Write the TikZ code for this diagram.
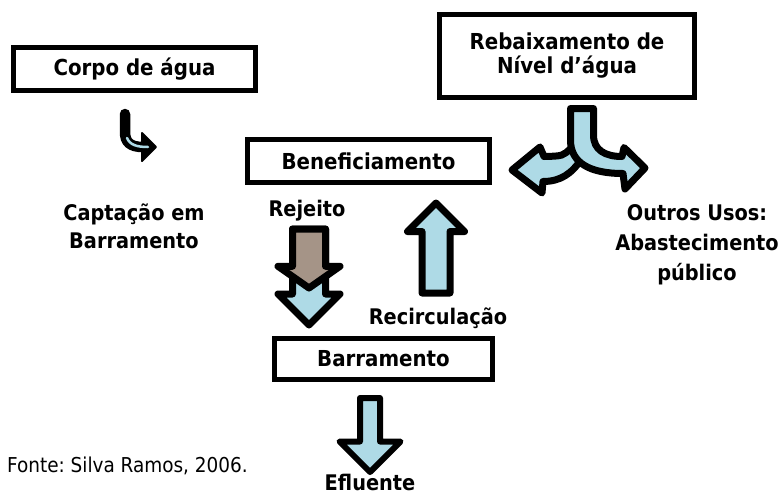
\documentclass[tikz,border=0pt]{standalone}
\usepackage{fontspec}
\setmainfont{DejaVu Sans Condensed}
\usepackage{tikz}
\usetikzlibrary{positioning,calc,shapes.arrows,arrows.meta}
\frenchspacing

\begin{document}
\begin{tikzpicture}[x=1pt,y=-1pt]
	\definecolor{aguablue}{RGB}{174,218,230}
	\definecolor{rejbrown}{RGB}{165,148,135}
	\tikzset{
		box/.style={
			draw=black,
			line width=5pt,
			inner sep=0pt,
			align=center,
			font=\fontsize{22}{24}\selectfont\bfseries
		},
		lbl/.style={
			align=center,
			inner sep=0pt,
			font=\fontsize{21.5}{28}\selectfont\bfseries
		},
		blockarr/.style={
			single arrow,
			draw=black,
			line width=7pt,
			line join=round,
			fill=aguablue,
			inner xsep=0pt,
			anchor=tail
		}
	}
	\useasboundingbox (0,0) rectangle (780,496);

	% ======= caixas =======
	\node[box, minimum width=242, minimum height=43] (corpo) at (134.5,69) {Corpo de água};
	\node[box, minimum width=255, minimum height=83] (rebaix) at (567,56) {Rebaixamento de\\Nível d’água};
	\node[box, minimum width=242, minimum height=43] (benef) at (368.5,161) {Beneficiamento};
	\node[box, minimum width=218, minimum height=41] (barr) at (383.5,359) {Barramento};

	% ======= textos =======
	\node[lbl] (captacao) at (134,226) {Captação em\\Barramento};
	\node[lbl] (rejeito) at (307,211) {Rejeito};
	\node[lbl] (recirc) at (438,318) {Recirculação};
	\node[lbl, font=\fontsize{21.5}{30}\selectfont\bfseries] (outros) at (697,245) {Outros Usos:\\Abastecimento\\público};
	\node[lbl] (efluente) at (370,482) {Efluente};
	\node[anchor=west, inner sep=0pt, font=\fontsize{20.5}{24}\selectfont] (fonte) at (7,466) {Fonte: Silva Ramos, 2006.};

	% ======= seta curta: corpo -> captacao =======
	\draw[line width=10.5pt, line cap=round] (125,114) -- (125,132) .. controls (125,142) and (130,147) .. (143,147);
	\filldraw[line width=2pt, line join=round] (142,133) -- (156,147) -- (142,161) -- cycle;
	\draw[aguablue, line width=2.5pt, line cap=round] (127,138) .. controls (130,145) and (137,147) .. (148,147);

	% ======= seta dupla do rebaixamento =======
	% ramo esquerdo (por baixo)
	\filldraw[fill=aguablue, line width=7pt, line join=round]
		(582,135) -- (571,148) .. controls (563,156) .. (544,156.5)
		-- (540,147) -- (512,170) -- (542,193) -- (543,181.5)
		.. controls (560,181.5) and (572,174) .. (582,158) -- cycle;
	% ramo direito (por cima)
	\filldraw[fill=aguablue, line width=7pt, line join=round]
		(570.5,108.5) -- (570.5,140) .. controls (570.5,163) and (590,173.5) .. (623,173.5)
		-- (625,189) -- (645,168) -- (624,147.5) -- (622,156.5)
		.. controls (605,156.5) and (593.5,150) .. (593.5,135) -- (593.5,108.5) -- cycle;

	% ======= setas retas =======
	\node[blockarr, rotate=-90, minimum height=96, inner ysep=13pt,
		single arrow head extend=14.5pt] (rejblue) at (309,225.5) {};
	\node[blockarr, rotate=-90, minimum height=59, inner ysep=13pt, fill=rejbrown,
		single arrow head extend=14.5pt, single arrow tip angle=110] (rejarr) at (309,225.5) {};
	\node[blockarr, rotate=90, minimum height=90, inner ysep=10.5pt,
		single arrow head extend=14.5pt] (recarr) at (436,296.5) {};
	\node[blockarr, rotate=-90, minimum height=74, inner ysep=7pt, line width=6pt,
		single arrow head extend=20.5pt] (eflarr) at (370,395) {};
\end{tikzpicture}
\end{document}
